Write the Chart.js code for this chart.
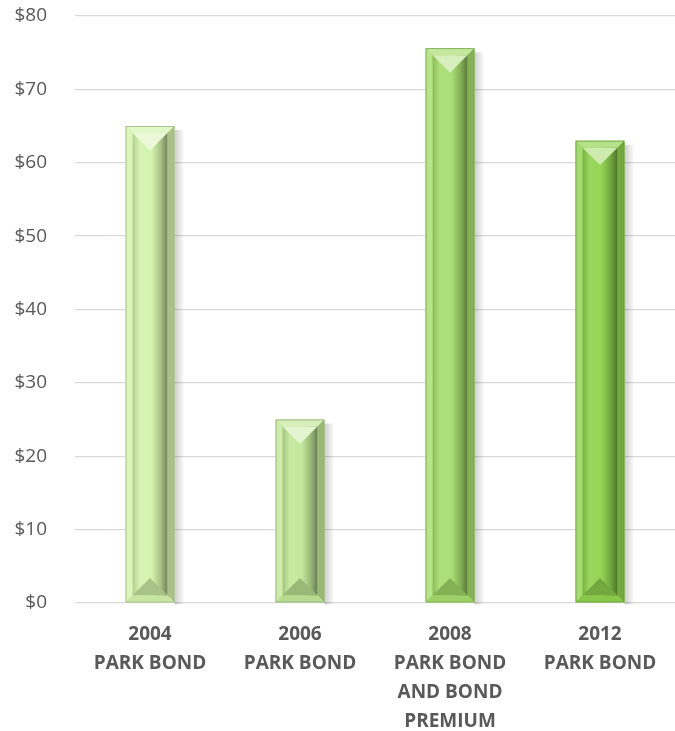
<!DOCTYPE html>
<html>
<head>
<meta charset="utf-8">
<script src="https://cdn.jsdelivr.net/npm/chart.js@4.4.1/dist/chart.umd.min.js"></script>
<style>
  html, body { margin: 0; padding: 0; background: #ffffff; }
  #wrap { width: 675px; height: 731px; position: relative; }
</style>
</head>
<body>
<div id="wrap"><canvas id="chart"></canvas></div>
<script>
const categories = [
    ["2004", "PARK BOND"],
    ["2006", "PARK BOND"],
    ["2008", "PARK BOND", "AND BOND", "PREMIUM"],
    ["2012", "PARK BOND"],
];
const amounts = [65, 25, 75.6, 63];
const barColors = ["#d3f2aa", "#c0e797", "#a5dc6c", "#8fd24c"];
const yTicks = [0, 10, 20, 30, 40, 50, 60, 70, 80];

function shade(hex, amt) {
    const n = parseInt(hex.slice(1), 16);
    let r = (n >> 16) & 255, g = (n >> 8) & 255, b = n & 255;
    const f = (c) => {
        const v = amt >= 0 ? c + (255 - c) * amt : c * (1 + amt);
        return Math.max(0, Math.min(255, Math.round(v)));
    };
    return `rgb(${f(r)},${f(g)},${f(b)})`;
}

// draws the slanted bevel on top of each bar, using the bar element geometry
const bevelPlugin = {
    id: "bevel",
    beforeDatasetsDraw(chart) {
        const ctx = chart.ctx;
        const meta = chart.getDatasetMeta(0);
        meta.data.forEach((bar) => {
            const w = bar.width;
            const x0 = bar.x - w / 2;
            const top = bar.y;
            const h = bar.base - bar.y;
            ctx.save();
            const g = ctx.createLinearGradient(x0 + w, 0, x0 + w + 10, 0);
            g.addColorStop(0, "rgba(0,0,0,0.2)");
            g.addColorStop(1, "rgba(0,0,0,0)");
            ctx.fillStyle = g;
            ctx.fillRect(x0 + w, top + 4, 10, h - 2);
            ctx.restore();
        });
    },
    afterDatasetsDraw(chart) {
        const ctx = chart.ctx;
        const meta = chart.getDatasetMeta(0);
        meta.data.forEach((bar, i) => {
            const c = barColors[i];
            const w = bar.width;
            const x0 = bar.x - w / 2;
            const x1 = x0 + w;
            const y0 = bar.y;
            const y1 = bar.base;
            const b = 7;
            ctx.save();
            const poly = (pts, fill) => {
                ctx.beginPath();
                ctx.moveTo(pts[0][0], pts[0][1]);
                pts.slice(1).forEach((p) => ctx.lineTo(p[0], p[1]));
                ctx.closePath();
                ctx.fillStyle = fill;
                ctx.fill();
            };
            // outer frame facets
            poly([[x0, y0], [x1, y0], [x1 - b, y0 + b], [x0 + b, y0 + b]], shade(c, 0.35));
            poly([[x0, y0], [x0 + b, y0 + b], [x0 + b, y1 - b], [x0, y1]], shade(c, 0.2));
            poly([[x1, y0], [x1, y1], [x1 - b, y1 - b], [x1 - b, y0 + b]], shade(c, -0.2));
            poly([[x0, y1], [x0 + b, y1 - b], [x1 - b, y1 - b], [x1, y1]], shade(c, -0.05));
            // inner column
            const ix0 = x0 + b, ix1 = x1 - b, iy0 = y0 + b, iy1 = y1 - b;
            const iw = ix1 - ix0;
            const g = ctx.createLinearGradient(ix0, 0, ix1, 0);
            g.addColorStop(0, shade(c, -0.15));
            g.addColorStop(0.2, shade(c, 0.1));
            g.addColorStop(0.55, shade(c, 0.05));
            g.addColorStop(0.8, shade(c, -0.2));
            g.addColorStop(1, shade(c, -0.45));
            ctx.fillStyle = g;
            ctx.fillRect(ix0, iy0, iw, iy1 - iy0);
            // top V highlight and bottom dark wedge
            const t = Math.min(iw / 2, (iy1 - iy0) / 2);
            poly([[ix0, iy0], [ix1, iy0], [ix0 + iw / 2, iy0 + t]], shade(c, 0.55));
            poly([[ix0, iy1], [ix1, iy1], [ix0 + iw / 2, iy1 - t]], shade(c, -0.2));
            ctx.strokeStyle = shade(c, -0.25);
            ctx.lineWidth = 0.8;
            ctx.strokeRect(x0 + 0.4, y0 + 0.4, w - 0.8, y1 - y0 - 0.8);
            ctx.restore();
        });
    },
};

const ctx = document.getElementById("chart").getContext("2d");
new Chart(ctx, {
    type: "bar",
    data: {
        labels: categories,
        datasets: [
            {
                data: amounts,
                backgroundColor: barColors,
                borderWidth: 0,
                barPercentage: 0.5,
                categoryPercentage: 0.65,
            },
        ],
    },
    options: {
        responsive: true,
        maintainAspectRatio: false,
        animation: false,
        layout: { padding: { top: 16, left: 8, right: 0, bottom: 0 } },
        plugins: { legend: { display: false }, tooltip: { enabled: false } },
        scales: {
            x: {
                grid: { display: false, drawTicks: false },
                border: { display: false },
                afterFit: (axis) => {
                    axis.height = 128;
                    axis.paddingLeft = 0;
                    axis.paddingRight = 0;
                },
                ticks: {
                    color: "#595959",
                    padding: 17,
                    maxRotation: 0,
                    autoSkip: false,
                    font: { family: "'Open Sans', sans-serif", size: 19, weight: "bold", lineHeight: 1.53 },
                },
            },
            y: {
                min: 0,
                max: 80,
                afterBuildTicks: (axis) => {
                    axis.ticks = yTicks.map((v) => ({ value: v }));
                },
                afterFit: (axis) => {
                    axis.width = 67;
                    axis.paddingTop = 0;
                    axis.paddingBottom = 0;
                },
                grid: { color: "#d9d9d9", lineWidth: 1.3, drawTicks: false },
                border: { display: false },
                ticks: {
                    color: "#595959",
                    padding: 28,
                    callback: (v) => "$" + v,
                    font: { family: "'Open Sans', sans-serif", size: 19 },
                },
            },
        },
    },
    plugins: [bevelPlugin],
});
</script>
</body>
</html>
